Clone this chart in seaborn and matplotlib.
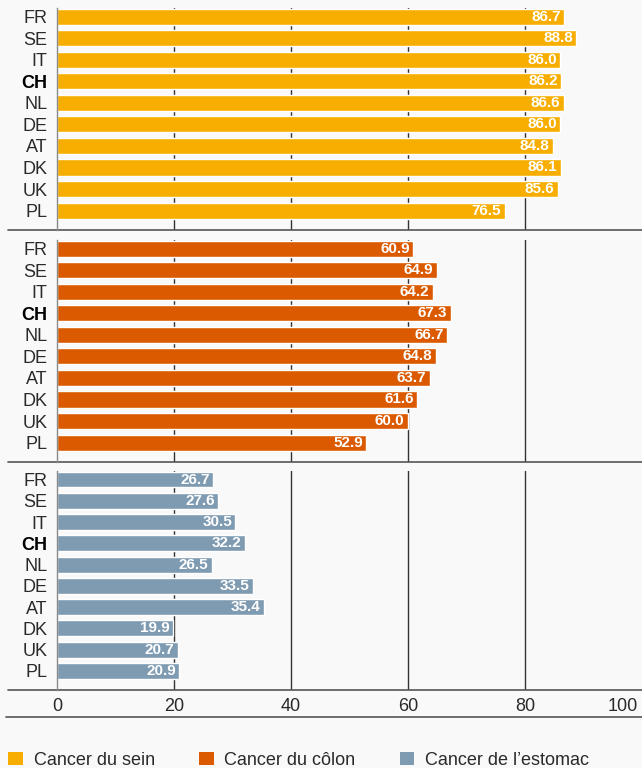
import numpy as np
import pandas as pd
import matplotlib.pyplot as plt
import seaborn as sns
from matplotlib.patches import Patch
from matplotlib.lines import Line2D
from matplotlib.transforms import ScaledTranslation

# Data

countries = ["FR", "SE", "IT", "CH", "NL", "DE", "AT", "DK", "UK", "PL"]

sein = [86.7, 88.8, 86.0, 86.2, 86.6, 86.0, 84.8, 86.1, 85.6, 76.5]
colon = [60.9, 64.9, 64.2, 67.3, 66.7, 64.8, 63.7, 61.6, 60.0, 52.9]
estomac = [26.7, 27.6, 30.5, 32.2, 26.5, 33.5, 35.4, 19.9, 20.7, 20.9]

series_names = ["Cancer du sein", "Cancer du côlon", "Cancer de l’estomac"]
colors = ["#F8AE00", "#DB5A00", "#7F9BB2"]
x_ticks = [0, 20, 40, 60, 80, 100]

# Style

sns.set_style("white")
plt.rcParams["font.family"] = ["Liberation Sans", "DejaVu Sans"]
bg = "#F9F9F9"

fig = plt.figure(figsize=(6.42, 7.68), dpi=100, facecolor=bg)

W, H = 642, 768
left_px = 57
panels_px = [(8, 230), (240, 462), (471, 690)]

axes = []
for (top, bottom) in panels_px:
    ax = fig.add_axes([left_px / W, 1 - bottom / H, 1 - left_px / W, (bottom - top) / H])
    ax.set_facecolor(bg)
    axes.append(ax)

for ax, vals, col in zip(axes, [sein, colon, estomac], colors):
    df = pd.DataFrame({"country": countries, "value": vals})

    ax.vlines([20, 40, 60, 80], -1, 11, color="#333333", lw=1, zorder=0)

    sns.barplot(
        data=df,
        x="value",
        y="country",
        orient="h",
        color=col,
        saturation=1,
        width=0.75,
        ax=ax,
        zorder=2
    )

    labels = ax.bar_label(
        ax.containers[0],
        fmt="%.1f",
        padding=-2.5,
        color="white",
        fontsize=11,
        fontweight="bold"
    )
    for t in labels:
        t.set_ha("right")

    ax.set_xlim(0, 100)
    ax.set_ylim(9.9, -0.4)
    ax.set_xlabel("")
    ax.set_ylabel("")

    for s in ["top", "right", "bottom"]:
        ax.spines[s].set_visible(False)
    ax.spines["left"].set_color("#8a8a8a")
    ax.spines["left"].set_linewidth(1)
    ax.spines["left"].set_zorder(3)

    ax.tick_params(axis="y", length=0, pad=7, labelsize=13, colors="#2a2a2a")
    for lbl in ax.get_yticklabels():
        if lbl.get_text() == "CH":
            lbl.set_fontweight("bold")
            lbl.set_color("black")

    # separator line under each panel
    ax.add_line(Line2D([-49 / 585, 1], [0, 0], transform=ax.transAxes,
                       color="#555555", lw=1.2, clip_on=False))

    ax.set_xticks(x_ticks)
    ax.tick_params(axis="x", length=0)
    if ax is not axes[-1]:
        ax.set_xticklabels([])

axes[-1].tick_params(axis="x", labelsize=13, pad=6, colors="#2a2a2a")
axes[-1].add_line(Line2D([-51 / 585, 1], [-27 / 219, -27 / 219], transform=axes[-1].transAxes,
                         color="#555555", lw=1.2, clip_on=False))

# keep the "100" label inside the figure
last = axes[-1].get_xticklabels()[-1]
last.set_ha("right")
last.set_transform(last.get_transform() + ScaledTranslation(-4 / 100, 0, fig.dpi_scale_trans))

# Legend

handles = [Patch(facecolor=c, edgecolor="none") for c in colors]
fig.legend(
    handles,
    series_names,
    loc="lower left",
    bbox_to_anchor=(3 / W, -0.008),
    ncol=3,
    frameon=False,
    fontsize=13,
    handlelength=0.8,
    handleheight=0.8,
    handletextpad=0.6,
    columnspacing=2.45,
    borderaxespad=0.0,
    borderpad=0.3,
    labelcolor="#2a2a2a"
)

plt.savefig("out.png", dpi=100, facecolor=bg)
